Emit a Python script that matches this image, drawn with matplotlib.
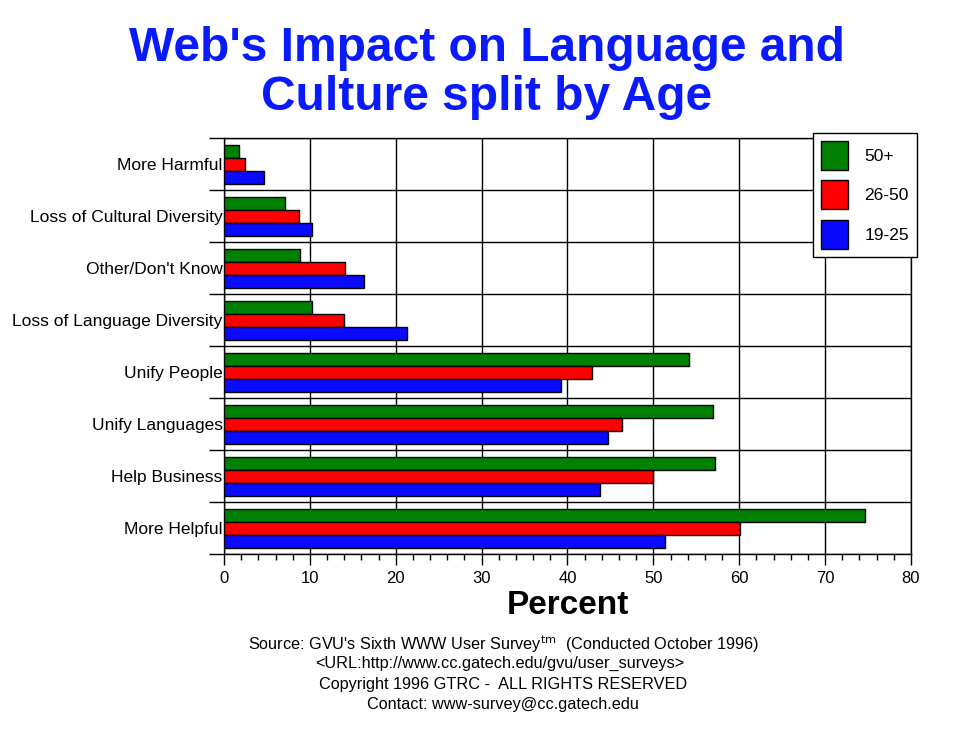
import matplotlib
matplotlib.use("Agg")
import matplotlib.pyplot as plt
from matplotlib.patches import Patch
from matplotlib.ticker import MultipleLocator, FixedLocator
import numpy as np

plt.rcParams['font.family'] = ['Liberation Sans', 'DejaVu Sans']

categories = ["More Helpful", "Help Business", "Unify Languages", "Unify People",
              "Loss of Language Diversity", "Other/Don't Know",
              "Loss of Cultural Diversity", "More Harmful"]
series_names = ["50+", "26-50", "19-25"]
vals_50plus = [74.6, 57.2, 57.0, 54.2, 10.3, 8.9, 7.1, 1.7]
vals_26_50 = [60.1, 49.9, 46.3, 42.9, 14.0, 14.1, 8.7, 2.5]
vals_19_25 = [51.3, 43.8, 44.7, 39.3, 21.3, 16.3, 10.3, 4.6]
colors = ["#008000", "#FF0000", "#0A0AFF"]

W, H = 970, 736
fig = plt.figure(figsize=(W / 100, H / 100), dpi=100)
fig.patch.set_facecolor("white")
ax = fig.add_axes([224 / W, 1 - 554 / H, 687 / W, 416 / H])

y = np.arange(len(categories))
bh = 0.25
for offs, vals, col, name in zip([bh, 0, -bh], [vals_50plus, vals_26_50, vals_19_25], colors, series_names):
    ax.barh(y + offs, vals, height=bh, color=col, edgecolor="black", linewidth=1, label=name, zorder=3)

ax.set_xlim(0, 80)
ax.set_ylim(-0.5, len(categories) - 0.5)
ax.xaxis.set_major_locator(MultipleLocator(10))
ax.xaxis.set_minor_locator(MultipleLocator(2))
ax.set_yticks(y)
ax.set_yticklabels(categories, fontsize=12.5)
ax.yaxis.set_minor_locator(FixedLocator(np.arange(-0.5, len(categories), 1.0)))
ax.tick_params(axis="y", which="major", length=0, pad=1)
ax.tick_params(axis="y", which="minor", length=11, width=1, direction="out")
ax.tick_params(axis="x", which="major", length=8, width=1, direction="out", labelsize=12, pad=4)
ax.tick_params(axis="x", which="minor", length=4, width=1, direction="out")
ax.grid(axis="x", which="major", color="black", linewidth=1, zorder=1)
ax.grid(axis="y", which="minor", color="black", linewidth=1, zorder=1)
for s in ax.spines.values():
    s.set_linewidth(1)
    s.set_color("black")

ax.set_xlabel("Percent", fontsize=24, fontweight="bold", labelpad=3)

fig.text(487 / W, 1 - 61 / H, "Web's Impact on Language and", ha="center", va="baseline",
         fontsize=34.5, fontweight="bold", color="#0A1AFF")
fig.text(487 / W, 1 - 110 / H, "Culture split by Age", ha="center", va="baseline",
         fontsize=34.5, fontweight="bold", color="#0A1AFF")

handles = [Patch(facecolor=c, edgecolor="black", linewidth=1) for c in colors]
leg = fig.legend(handles, series_names, loc="upper left", bbox_to_anchor=(813 / W, 1 - 133 / H),
                 fontsize=12.5, handlelength=1.55, handleheight=2.2, labelspacing=0.6,
                 handletextpad=0.95, borderpad=0.45, fancybox=False, framealpha=1,
                 edgecolor="black", borderaxespad=0)
leg.get_frame().set_linewidth(1)

fig.text(503 / W, 1 - 644 / H, r"Source: GVU's Sixth WWW User Survey$^{\rm tm}$  (Conducted October 1996)",
         ha="center", va="center", fontsize=11.7)
fig.text(500 / W, 1 - 663 / H, "<URL:http://www.cc.gatech.edu/gvu/user_surveys>",
         ha="center", va="center", fontsize=11.7)
fig.text(503 / W, 1 - 684 / H, "Copyright 1996 GTRC -  ALL RIGHTS RESERVED",
         ha="center", va="center", fontsize=11.7)
fig.text(503 / W, 1 - 705 / H, "Contact: www-survey@cc.gatech.edu",
         ha="center", va="center", fontsize=11.7)

fig.savefig("out.png", dpi=100, facecolor="white")
